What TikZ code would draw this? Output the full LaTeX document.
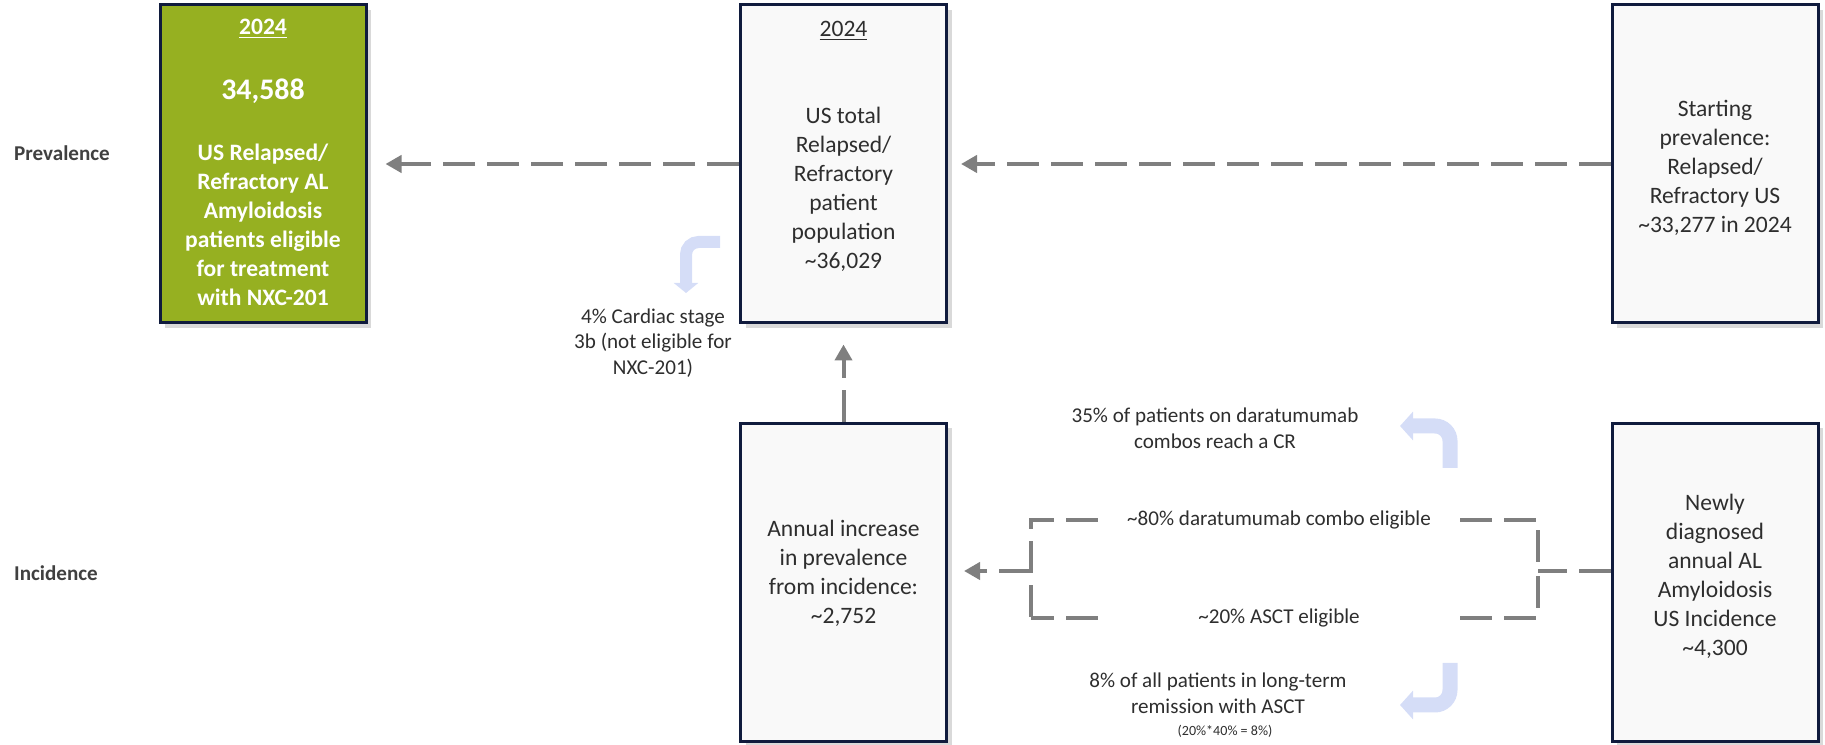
\documentclass[tikz,border=0pt]{standalone}
\usepackage{fontspec}
\setmainfont{Carlito}
\definecolor{nxgreen}{HTML}{96B021}
\definecolor{nxnavy}{HTML}{101B3D}
\definecolor{boxgray}{HTML}{F9F9F9}
\definecolor{dashgray}{HTML}{7F7F7F}
\definecolor{txtdark}{HTML}{2E2E2E}
\definecolor{txtgray}{HTML}{404040}
\definecolor{arrblue}{HTML}{D5DDF7}
\usetikzlibrary{arrows.meta, shadows}

\begin{document}
\begin{tikzpicture}[
      box/.style={draw=nxnavy, line width=0.06cm, fill=boxgray, text=txtdark,
                  minimum width=4.12cm, minimum height=6.36cm, align=center,
                  font=\fontsize{13.4}{16.5}\selectfont,
                  drop shadow={shadow xshift=0.1cm, shadow yshift=-0.1cm, opacity=0.3}},
      boxtxt/.style={text=txtdark, align=center, font=\fontsize{13.4}{16.5}\selectfont},
      greentxt/.style={text=white, align=center, font=\fontsize{13.4}{16.5}\selectfont\bfseries},
      rowlbl/.style={text=txtgray, anchor=west, font=\fontsize{12}{14}\selectfont\bfseries},
      note/.style={text=txtdark, align=center, font=\fontsize{12}{14.8}\selectfont},
      brlbl/.style={minimum width=7.24cm, inner ysep=0.1cm, text=txtdark,
                    font=\fontsize{12}{14.8}\selectfont},
      dashln/.style={draw=dashgray, line width=0.08cm, dash pattern=on 0.64cm off 0.24cm},
      dasharr/.style={dashln, -{Triangle[length=0.32cm, width=0.34cm]}, shorten >=0.3cm},
      bluearr/.style={draw=arrblue, line width=0.3cm, rounded corners=0.3cm,
                      -{Triangle[length=0.26cm, width=0.56cm]}}
    ]
      \useasboundingbox (0,0) rectangle (36.5,14.9);

      % row labels
      \node[rowlbl] (prev) at (0.16,11.84) {Prevalence};
      \node[rowlbl] (inc) at (0.16,3.44) {Incidence};

      % prevalence row
      \node[box, fill=nxgreen] (elig) at (5.26,11.62) {};
      \node[greentxt] (eligyr) at (5.26,14.33) {\underline{2024}};
      \node[greentxt, font=\fontsize{17}{20}\selectfont\bfseries] (elignum) at (5.26,13.08) {34,588};
      \node[greentxt] (eligtxt) at (5.26,10.4) {US Relapsed/\\Refractory AL\\Amyloidosis\\patients eligible\\for treatment\\with NXC-201};

      \node[box] (pop) at (16.87,11.62) {};
      \node[boxtxt] (popyr) at (16.87,14.28) {\underline{2024}};
      \node[boxtxt] (poptxt) at (16.87,11.12) {US total\\Relapsed/\\Refractory\\patient\\population\\\textasciitilde36,029};

      \node[box] (start) at (34.3,11.62) {};
      \node[boxtxt] (starttxt) at (34.3,11.55) {Starting\\prevalence:\\Relapsed/\\Refractory US\\\textasciitilde33,277 in 2024};

      % incidence row
      \node[box] (annual) at (16.87,3.25) {};
      \node[boxtxt] (annualtxt) at (16.87,3.43) {Annual increase\\in prevalence\\from incidence:\\\textasciitilde2,752};
      \node[box] (newly) at (34.3,3.25) {};
      \node[boxtxt] (newlytxt) at (34.3,3.37) {Newly\\diagnosed\\annual AL\\Amyloidosis\\US Incidence\\\textasciitilde4,300};

      \draw[dasharr, shorten >=0.36cm] (pop.west) -- (elig.east);
      \draw[dasharr, shorten >=0.26cm] (start.west) -- (pop.east);
      \draw[dasharr, shorten >=0.4cm] (annual.north) -- (pop.south);

      % split of incidence
      \node[brlbl] (dara) at (25.58,4.5) {\textasciitilde80\% daratumumab combo eligible};
      \node[brlbl] (asct) at (25.58,2.54) {\textasciitilde20\% ASCT eligible};
      \coordinate (brTL) at (20.62,4.5);
      \coordinate (brTR) at (30.76,4.5);
      \coordinate (brBL) at (20.62,2.54);
      \coordinate (brBR) at (30.76,2.54);
      \coordinate (brR) at (30.76,3.48);
      \coordinate (brL) at (20.62,3.48);
      \draw[dashln] (dara.west) -- (brTL) -- (brBL);
      \draw[dashln] (asct.west) -- (brBL);
      \draw[dashln] (dara.east) -- (brTR) -- (brR);
      \draw[dashln] (asct.east) -- (brBR) -- (brR);
      \draw[dashln] (newly.west |- brR) -- (brR);
      \draw[dasharr, shorten >=0.32cm] (brL) -- (annual.east |- brL);

      % notes
      \node[note, font=\fontsize{12}{14.6}\selectfont] (cardiac) at (13.06,8.04) {4\% Cardiac stage\\3b (not eligible for\\NXC-201)};
      \node[note] (cr) at (24.3,6.34) {35\% of patients on daratumumab\\combos reach a CR};
      \node[note] (remis) at (24.36,1.04) {8\% of all patients in long-term\\remission with ASCT};
      \node[note, font=\fontsize{8}{9}\selectfont] (remcalc) at (24.5,0.28) {(20\%*40\% = 8\%)};

      \coordinate (crA) at (29,5.54);
      \coordinate (crB) at (29,6.38);
      \coordinate (crC) at (28,6.38);
      \draw[bluearr] (crA) -- (crB) -- (crC);
      \coordinate (remA) at (29,1.64);
      \coordinate (remB) at (29,0.8);
      \coordinate (remC) at (28,0.8);
      \draw[bluearr] (remA) -- (remB) -- (remC);
      \coordinate (cardA) at (14.4,10.06);
      \coordinate (cardB) at (13.72,10.06);
      \coordinate (cardC) at (13.72,9.04);
      \draw[bluearr, line width=0.24cm, rounded corners=0.25cm,
            -{Triangle[length=0.2cm, width=0.48cm]}] (cardA) -- (cardB) -- (cardC);
    \end{tikzpicture}
\end{document}
